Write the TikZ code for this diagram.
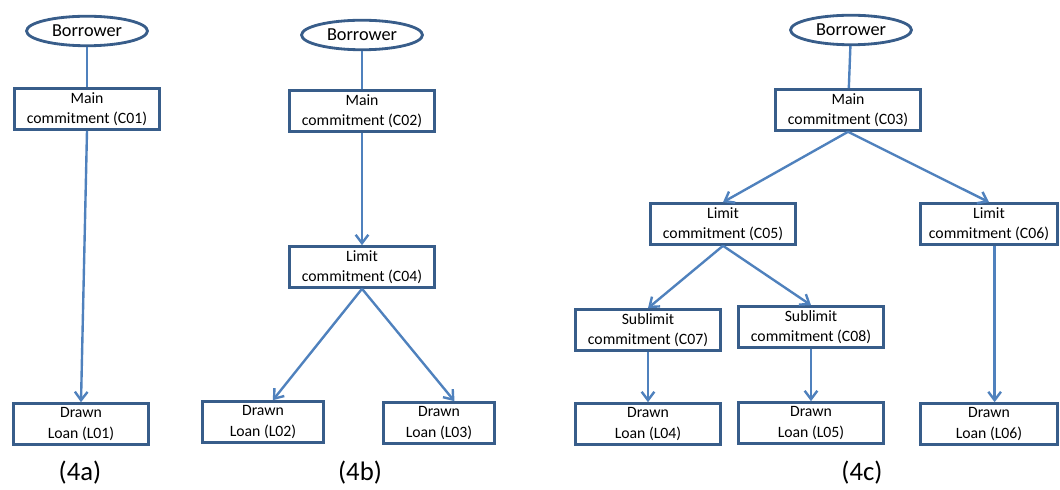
\documentclass[tikz,border=0pt]{standalone}
\usepackage{fontspec}
\setmainfont{Carlito}
\usetikzlibrary{arrows.meta,shapes.geometric}
\definecolor{bordure}{RGB}{56,93,138}
\definecolor{trait}{RGB}{79,129,189}
\begin{document}
\begin{tikzpicture}[x=0.025cm,y=-0.025cm]
		% Styles
		\tikzstyle{fleche}=[-{Straight Barb[length=6pt,width=9pt]},draw=trait,line width=1.7pt]
		\tikzstyle{lien}=[-,draw=trait,line width=1.7pt]
		\tikzstyle{boite}=[draw=bordure,line width=2pt,fill=white,minimum width=103pt,minimum height=29pt,inner sep=1pt,align=center,font=\fontsize{11.2}{14.5}\selectfont]
		\tikzstyle{emprunteur}=[ellipse,draw=bordure,line width=2pt,fill=white,minimum width=86pt,minimum height=21pt,inner sep=0pt,font=\fontsize{13}{15}\selectfont]
		\tikzstyle{legende}=[font=\fontsize{19}{22}\selectfont]
		% Dimensions
		\def\LigneBas{424}
		\def\LigneLegende{473}
		\useasboundingbox (0,0) rectangle (1060,490);
		% Noeuds (4a)
		\node[emprunteur] (B1) at (87,31) {Borrower};
		\node[boite] (C01) at (87,109) {Main\\commitment (C01)};
		\node[boite,minimum width=96pt] (L01) at (81,\LigneBas) {Drawn\\Loan (L01)};
		\node[legende] (T1) at (80,\LigneLegende) {(4a)};
		% Noeuds (4b)
		\node[emprunteur] (B2) at (362,35) {Borrower};
		\node[boite] (C02) at (362,111) {Main\\commitment (C02)};
		\node[boite] (C04) at (362,267) {Limit\\commitment (C04)};
		\node[boite,minimum width=86pt] (L02) at (263,422) {Drawn\\Loan (L02)};
		\node[boite,minimum width=79pt] (L03) at (439,423) {Drawn\\Loan (L03)};
		\node[legende] (T2) at (360,\LigneLegende) {(4b)};
		% Noeuds (4c)
		\node[emprunteur] (B3) at (851,30) {Borrower};
		\node[boite] (C03) at (848,110) {Main\\commitment (C03)};
		\node[boite] (C05) at (723,224) {Limit\\commitment (C05)};
		\node[boite,minimum width=97pt] (C06) at (989,224) {Limit\\commitment (C06)};
		\node[boite] (C07) at (648,330) {Sublimit\\commitment (C07)};
		\node[boite] (C08) at (811,327) {Sublimit\\commitment (C08)};
		\node[boite] (L04) at (648,\LigneBas) {Drawn\\Loan (L04)};
		\node[boite] (L05) at (811,423) {Drawn\\Loan (L05)};
		\node[boite,minimum width=97pt] (L06) at (989,\LigneBas) {Drawn\\Loan (L06)};
		\node[legende] (T3) at (862,\LigneLegende) {(4c)};
		% Arcs (4a)
		\draw[lien] (B1)--(C01);
		\draw[fleche] (C01.south)--(L01.north);
		% Arcs (4b)
		\draw[lien] (B2)--(C02);
		\draw[fleche] (C02)--(C04);
		\draw[fleche] (C04.south)--([xshift=7pt]L02.north);
		\draw[fleche] (C04.south)--([xshift=11pt]L03.north);
		% Arcs (4c)
		\draw[lien] (B3)--(C03);
		\draw[fleche] (C03.south)--(C05.north);
		\draw[fleche] (C03.south)--(C06.north);
		\draw[fleche] (C05.south)--(C07.north);
		\draw[fleche] (C05.south)--(C08.north);
		\draw[fleche] (C07)--(L04);
		\draw[fleche] (C08)--(L05);
		\draw[fleche] ([xshift=4pt]C06.south)--([xshift=4pt]L06.north);
	\end{tikzpicture}
\end{document}
